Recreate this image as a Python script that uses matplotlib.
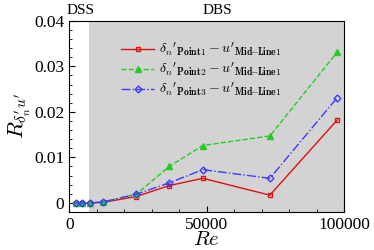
import matplotlib
matplotlib.use('Agg')
import matplotlib.pyplot as plt
from matplotlib.ticker import MultipleLocator

plt.rcParams['font.family'] = 'Liberation Serif'
plt.rcParams['mathtext.fontset'] = 'cm'

# Re values of the cases
re = [2500, 4800, 7400, 12200, 24400, 36400, 48600, 73000, 97500]
# correlation coefficients
r_point1 = [0.0, 0.0, 0.0, 0.0001, 0.0014, 0.0038, 0.0054, 0.0017, 0.0182]
r_point2 = [0.0, 0.0, 0.0, 0.0002, 0.0019, 0.0080, 0.0126, 0.0147, 0.0331]
r_point3 = [0.0, 0.0, 0.0, 0.0002, 0.0019, 0.0044, 0.0073, 0.0054, 0.0231]
re_dss_end = 7300

lab1 = r"$\delta_n{}'_{\mathbf{Point1}} - u'_{\mathbf{Mid\!\!-\!\!Line1}}$"
lab2 = r"$\delta_n{}'_{\mathbf{Point2}} - u'_{\mathbf{Mid\!\!-\!\!Line1}}$"
lab3 = r"$\delta_n{}'_{\mathbf{Point3}} - u'_{\mathbf{Mid\!\!-\!\!Line1}}$"

fig = plt.figure(figsize=(3.74, 2.5), dpi=100)
ax = fig.add_axes([0.185, 0.152, 0.735, 0.765])

ax.axvspan(re_dss_end, 100000, color='#d3d3d3', lw=0, zorder=0)

ax.plot(re, r_point1, '-', color='#e01010', lw=1, marker='s', ms=3.5, mfc='none', mew=1, label=lab1)
ax.plot(re, r_point2, '--', color='#22cc22', lw=1, marker='^', ms=4.5, label=lab2)
ax.plot(re, r_point3, '-.', color='#3b3bff', lw=1, marker='D', ms=3.5, mfc='none', mew=1, label=lab3)

ax.set_xlim(0, 100000)
ax.set_ylim(-0.002, 0.04)
ax.set_xticks([0, 50000, 100000])
ax.set_yticks([0, 0.01, 0.02, 0.03, 0.04])
ax.set_yticklabels(['0', '0.01', '0.02', '0.03', '0.04'])
ax.xaxis.set_minor_locator(MultipleLocator(10000))
ax.yaxis.set_minor_locator(MultipleLocator(0.002))
ax.tick_params(which='both', direction='in', labelsize=12.5)
ax.tick_params(which='major', length=4)
ax.tick_params(which='minor', length=2)

ax.set_xlabel(r'$Re$', fontsize=15, labelpad=-1)
ax.set_ylabel(r"$R_{\delta_n' u'}$", fontsize=16, labelpad=1)

ax.text(0.04, 1.02, 'DSS', transform=ax.transAxes, ha='center', va='bottom', fontsize=11)
ax.text(0.54, 1.02, 'DBS', transform=ax.transAxes, ha='center', va='bottom', fontsize=11)

ax.legend(loc='upper center', bbox_to_anchor=(0.48, 0.96), frameon=False, fontsize=10,
          handlelength=2.4, handletextpad=0.3, labelspacing=0.2)

fig.savefig('out.png', dpi=100)
